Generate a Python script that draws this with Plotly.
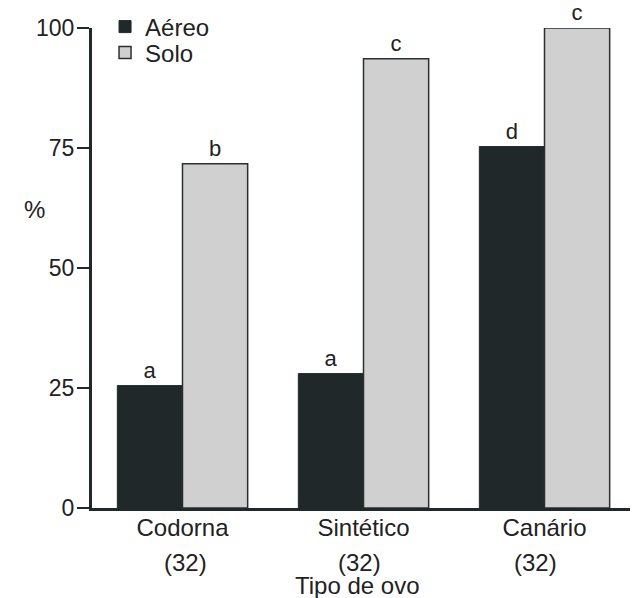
import plotly.graph_objects as go

categories = ["Codorna", "Sintético", "Canário"]
n_sizes = [32, 32, 32]
aereo = [25.5, 28.0, 75.3]
solo = [71.7, 93.6, 100.0]
aereo_letters = ["a", "a", "d"]
solo_letters = ["b", "c", "c"]
y_ticks = [0, 25, 50, 75, 100]

DARK = "#212829"
LIGHT = "#d0d0d0"
FONT = "Liberation Sans, Arial, sans-serif"
FS = 24

fig = go.Figure()
fig.add_trace(go.Bar(
    name="Aéreo", x=categories, y=aereo, text=aereo_letters,
    textposition="outside", cliponaxis=False, legend="legend",
    marker=dict(color=DARK, line=dict(color=DARK, width=1)),
    textfont=dict(size=22, color="#222"),
))
fig.add_trace(go.Bar(
    name="Solo", x=categories, y=solo, text=solo_letters,
    textposition="outside", cliponaxis=False, legend="legend2",
    marker=dict(color=LIGHT, line=dict(color="#2a3030", width=1.5)),
    textfont=dict(size=22, color="#222"),
))

n_label_shift = [3, -4, -9]
for c, n, dx in zip(categories, n_sizes, n_label_shift):
    fig.add_annotation(x=c, xref="x", y=-0.1125, yref="paper", text=f"({n})",
                       xshift=dx, showarrow=False,
                       font=dict(size=FS, color="#222"), yanchor="middle")

fig.add_annotation(x=(357 - 92) / 543, xref="paper", y=-0.162, yref="paper",
                   text="Tipo de ovo", showarrow=False,
                   font=dict(size=FS, color="#222"), yanchor="middle")
fig.add_annotation(x=-0.129, xref="paper", y=0.621, yref="paper", text="%",
                   showarrow=False, font=dict(size=FS, color="#222"))

leg = dict(xanchor="left", yanchor="middle", bgcolor="rgba(0,0,0,0)",
           font=dict(size=FS), itemwidth=30)

fig.update_layout(
    width=630, height=590,
    margin=dict(l=84, r=3, t=20, b=90, autoexpand=False),
    paper_bgcolor="white", plot_bgcolor="white",
    font=dict(family=FONT, size=FS, color="#222"),
    barmode="group", bargap=0.28, bargroupgap=0,
    showlegend=True,
    legend=dict(x=0.024, y=(508 - 27) / 480, **leg),
    legend2=dict(x=0.024, y=(508 - 53) / 480, **leg),
    xaxis=dict(range=[-0.5, 2.5], showline=True, linecolor=DARK, linewidth=3,
               ticks="", showgrid=False, zeroline=False,
               tickfont=dict(size=FS), ticklabelstandoff=-4),
    yaxis=dict(range=[0, 100], tickvals=y_ticks, showline=True, linecolor=DARK,
               linewidth=3, ticks="outside", ticklen=12, tickwidth=2,
               tickcolor=DARK, showgrid=False, zeroline=False,
               tickfont=dict(size=23), ticklabelstandoff=-2),
)

fig.write_html("out.html")
